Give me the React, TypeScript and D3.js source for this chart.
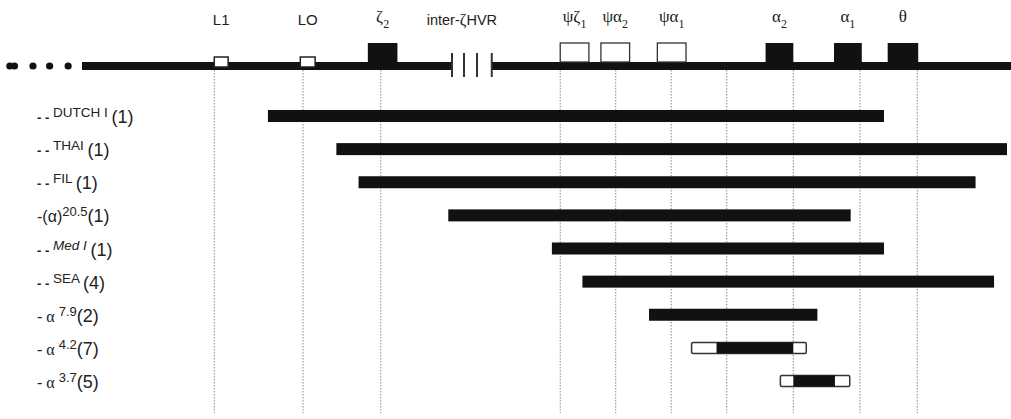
import React from 'react';
import * as d3 from 'd3';

// map position along the cluster, arbitrary units (0 = start of drawn backbone)
const geneNames = ['L1', 'LO', 'ζ', 'ψζ', 'ψα', 'ψα', 'α', 'α', 'θ'];
const geneSubs = ['', '', '2', '1', '2', '1', '2', '1', ''];
const geneStart = [14.3, 23.6, 30.9, 51.7, 56.1, 62.2, 73.9, 81.3, 87.1];
const geneEnd = [15.8, 25.2, 34.1, 54.8, 59.2, 65.3, 76.9, 84.3, 90.4];
const geneKind = ['small', 'small', 'solid', 'open', 'open', 'open', 'solid', 'solid', 'solid'];

const guideLines = [14.3, 23.9, 32.3, 51.7, 57.7, 63.7, 69.7, 76.9, 84.1, 90.3];
const breakStart = 40.0;
const breakEnd = 44.3;
const breakTicks = [41.3, 42.7];
const leadDots = [-7.8, -7.3, -5.3, -3.5, -1.5];

// deletions
const rowPrefix = ['- -', '- -', '- -', '-(α)', '- -', '- -', '- α', '- α', '- α'];
const rowName = ['DUTCH I', 'THAI', 'FIL', '', 'Med I', 'SEA', '', '', ''];
const rowSup = ['', '', '', '20.5', '', '', '7.9', '4.2', '3.7'];
const rowCount = [1, 1, 1, 1, 1, 4, 2, 7, 5];
const rowStart = [20.1, 27.5, 29.9, 39.6, 50.8, 54.1, 61.3, 65.9, 75.5];
const rowEnd = [86.7, 100, 96.6, 83.1, 86.7, 98.6, 79.5, 78.3, 83.0];
// breakpoint regions known only to lie in the open ends
const innerStart = [null, null, null, null, null, null, null, 68.6, 76.9];
const innerEnd = [null, null, null, null, null, null, null, 76.9, 81.4];

const W = 1011;
const H = 419;
const sans = '"Liberation Sans", Arial, sans-serif';
const serif = '"Liberation Serif", "Times New Roman", serif';

export default function App() {
  const x = d3.scaleLinear().domain([0, 100]).range([82, 1007]);
  const rows = rowCount.map((_, i) => i);
  const y = d3.scalePoint<number>().domain(rows).range([116, 381]);

  const lineY = 66;
  const boxTop = 43;

  return (
    <svg width={W} height={H} style={{ position: 'absolute', left: 0, top: 0, background: '#fff' }}>
      {/* dotted guides */}
      {guideLines.map((g, i) => (
        <line key={'g' + i} x1={x(g)} x2={x(g)} y1={70} y2={413}
          stroke="#8a8a8a" strokeWidth={1} strokeDasharray="1.5,1.5" />
      ))}

      {/* backbone */}
      {leadDots.map((d, i) => (
        <circle key={'d' + i} cx={x(d)} cy={lineY} r={3.6} fill="#111" />
      ))}
      <rect x={x(0)} y={lineY - 4} width={x(breakStart) - x(0)} height={8} fill="#111" />
      <rect x={x(breakEnd)} y={lineY - 4} width={x(100.5) - x(breakEnd)} height={8} fill="#111" />
      {[breakStart, ...breakTicks, breakEnd].map((b, i) => (
        <line key={'b' + i} x1={x(b)} x2={x(b)} y1={53} y2={77} stroke="#333" strokeWidth={2} />
      ))}

      {/* genes */}
      {geneNames.map((g, i) => {
        const x0 = x(geneStart[i]);
        const x1 = x(geneEnd[i]);
        const kind = geneKind[i];
        if (kind === 'small') {
          return <rect key={'gb' + i} x={x0} y={57} width={x1 - x0} height={10}
            fill="#fff" stroke="#222" strokeWidth={1.5} />;
        }
        if (kind === 'open') {
          return <rect key={'gb' + i} x={x0} y={boxTop} width={x1 - x0} height={lineY - 4 - boxTop}
            fill="#fff" stroke="#333" strokeWidth={1.3} />;
        }
        return <rect key={'gb' + i} x={x0} y={boxTop} width={x1 - x0} height={lineY - boxTop}
          fill="#111" />;
      })}

      {/* gene labels */}
      {geneNames.map((g, i) => {
        const cx = (x(geneStart[i]) + x(geneEnd[i])) / 2;
        const greek = i >= 2;
        return (
          <text key={'gl' + i} x={cx} y={greek ? 22 : 25} textAnchor="middle"
            fontFamily={greek ? serif : sans} fontSize={greek ? 17 : 15} fill="#222">
            {g}
            {geneSubs[i] && <tspan fontSize={12} dy={6}>{geneSubs[i]}</tspan>}
          </text>
        );
      })}
      <text x={x((breakStart + breakEnd) / 2) - 10} y={25} textAnchor="middle"
        fontFamily={sans} fontSize={14.5} fill="#222">
        inter-<tspan fontFamily={serif} fontSize={16}>ζ</tspan>HVR
      </text>

      {/* deletion bars */}
      {rows.map(i => {
        const cy = y(i) as number;
        const x0 = x(rowStart[i]);
        const x1 = x(rowEnd[i]);
        if (innerStart[i] != null) {
          const a = x(innerStart[i] as number);
          const b = x(innerEnd[i] as number);
          return (
            <g key={'r' + i}>
              <rect x={x0} y={cy - 5.5} width={x1 - x0} height={11} rx={1.5}
                fill="#fff" stroke="#333" strokeWidth={1.5} />
              <rect x={a} y={cy - 5.5} width={b - a} height={11} fill="#111" />
            </g>
          );
        }
        return <rect key={'r' + i} x={x0} y={cy - 6} width={x1 - x0} height={12} fill="#111" />;
      })}

      {/* row labels */}
      {rows.map(i => {
        const cy = y(i) as number;
        const alpha = rowPrefix[i].includes('α');
        const base = cy + 7;
        return (
          <text key={'l' + i} x={37} y={base} fontFamily={sans} fill="#222">
            {alpha ? (
              <tspan fontSize={16} fontFamily={i === 3 ? sans : serif}>
                {i === 3 ? '-(α)' : '- α  '}
              </tspan>
            ) : (
              <tspan fontSize={13} fontWeight="bold" dy={-1}>{'- -  '}</tspan>
            )}
            {rowName[i] && (
              <tspan fontSize={13.5} dy={alpha ? -6 : -5}
                fontStyle={rowName[i] === 'Med I' ? 'italic' : 'normal'}>
                {rowName[i] + ' '}
              </tspan>
            )}
            {rowSup[i] && <tspan fontSize={13} dy={-6}>{rowSup[i]}</tspan>}
            <tspan fontSize={18} dy={rowSup[i] ? 6 : (rowName[i] ? 6 : 1)}>{'(' + rowCount[i] + ')'}</tspan>
          </text>
        );
      })}
    </svg>
  );
}
